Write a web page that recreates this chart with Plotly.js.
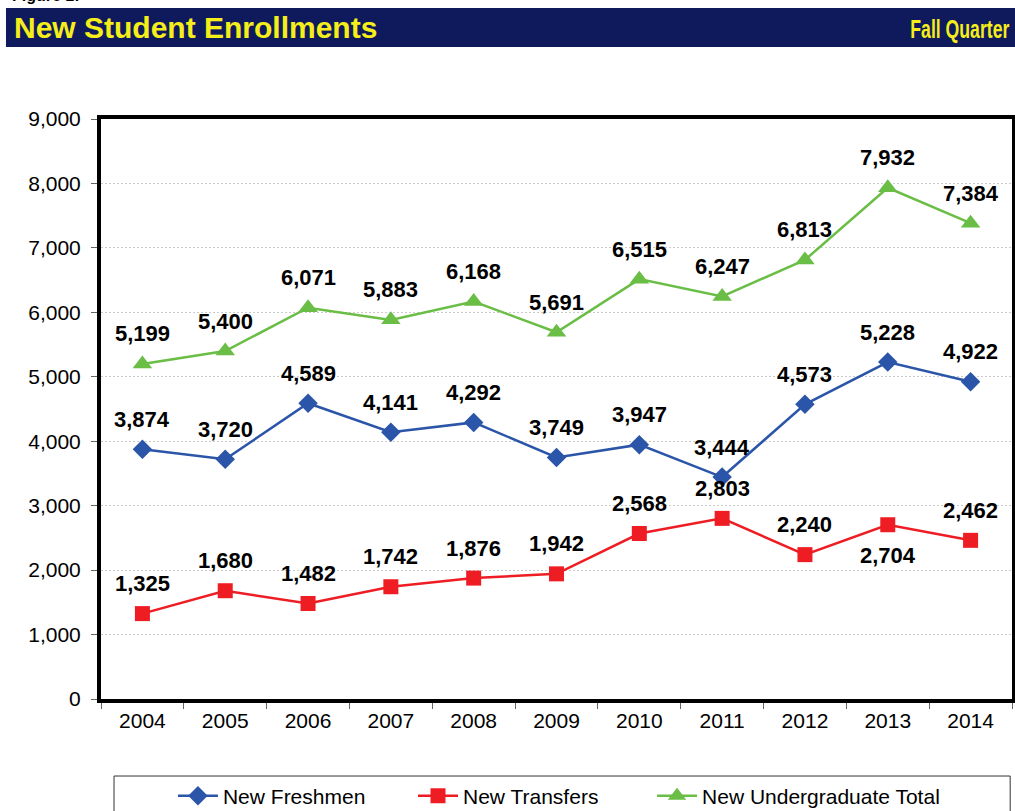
<!DOCTYPE html>
<html>
<head>
<meta charset="utf-8">
<script src="https://cdn.plot.ly/plotly-3.0.1.min.js"></script>
<style>html,body{margin:0;padding:0;background:#fff;}#chart{width:1015px;height:811px;}</style>
</head>
<body>
<div id="chart"></div>
<script>
const years = ['2004','2005','2006','2007','2008','2009','2010','2011','2012','2013','2014'];
const newFreshmen = [3874, 3720, 4589, 4141, 4292, 3749, 3947, 3444, 4573, 5228, 4922];
const newTransfers = [1325, 1680, 1482, 1742, 1876, 1942, 2568, 2803, 2240, 2704, 2462];
const newUndergradTotal = [5199, 5400, 6071, 5883, 6168, 5691, 6515, 6247, 6813, 7932, 7384];
const seriesNames = ['New Freshmen', 'New Transfers', 'New Undergraduate Total'];
const yTickVals = [0, 1000, 2000, 3000, 4000, 5000, 6000, 7000, 8000, 9000];
const yTickText = ['0', '1,000', '2,000', '3,000', '4,000', '5,000', '6,000', '7,000', '8,000', '9,000'];

const colors = ['#2A55A8', '#EE1D24', '#6ABD45'];
const symbols = ['diamond', 'square', 'triangle-up'];
const msizes = [15, 15, 17];
const allSeries = [newFreshmen, newTransfers, newUndergradTotal];
const legendIds = ['legend', 'legend2', 'legend3'];
const legendX = [0.1704, 0.4069, 0.6424];
// labels drawn below the point instead of above
const belowLabels = {1: ['2013']};

const traces = allSeries.map((vals, i) => ({
  x: years, y: vals, name: seriesNames[i], type: 'scatter', mode: 'lines+markers',
  legend: legendIds[i],
  line: {color: colors[i], width: 2.5},
  marker: {symbol: symbols[i], size: msizes[i], color: colors[i]}
}));

const fmt = v => v.toLocaleString('en-US');
const annotations = [];
allSeries.forEach((vals, i) => {
  vals.forEach((v, j) => {
    const below = belowLabels[i] && belowLabels[i].includes(years[j]);
    annotations.push({
      x: j, y: v, xref: 'x', yref: 'y', text: '<b>' + fmt(v) + '</b>', showarrow: false,
      yshift: below ? -31 : 30,
      font: {family: 'Liberation Sans, Arial, sans-serif', size: 22, color: '#000'}
    });
  });
});

// header texts
annotations.push({
  xref: 'paper', yref: 'paper', x: -0.0977, y: 1.1586, xanchor: 'left', yanchor: 'middle',
  text: '<b>New Student Enrollments</b>', showarrow: false,
  font: {family: 'Liberation Sans, Arial, sans-serif', size: 30, color: '#F5EE1A'}
});
annotations.push({
  xref: 'paper', yref: 'paper', x: 1.0, y: 1.155, xanchor: 'right', yanchor: 'middle', align: 'right',
  text: '<b>Fall Quarter</b>', showarrow: false,
  font: {family: 'Liberation Sans, Arial, sans-serif', size: 25, color: '#F5EE1A'}
});
annotations.push({
  xref: 'paper', yref: 'paper', x: -0.1, y: 1.2135, xanchor: 'left', yanchor: 'middle',
  text: '<b>Figure 1:</b>', showarrow: false,
  font: {family: 'Liberation Sans, Arial, sans-serif', size: 16, color: '#000'}
});

const legendBase = {
  orientation: 'h', xref: 'container', yref: 'container',
  xanchor: 'left', y: 0.0185, yanchor: 'middle',
  font: {family: 'Liberation Sans, Arial, sans-serif', size: 21, color: '#000'},
  bgcolor: 'rgba(0,0,0,0)', itemwidth: 40
};

const layout = {
  width: 1015, height: 811,
  margin: {l: 101, r: 3, t: 119, b: 112},
  paper_bgcolor: '#fff', plot_bgcolor: '#fff',
  font: {family: 'Liberation Sans, Arial, sans-serif', size: 21, color: '#000'},
  showlegend: true,
  legend: Object.assign({}, legendBase, {x: legendX[0]}),
  legend2: Object.assign({}, legendBase, {x: legendX[1]}),
  legend3: Object.assign({}, legendBase, {x: legendX[2]}),
  xaxis: {
    type: 'category', range: [-0.5, 10.5], tickson: 'boundaries',
    ticks: 'outside', ticklen: 6, tickcolor: '#666', tickwidth: 1,
    showline: true, linecolor: '#000', linewidth: 4, mirror: true,
    showgrid: false, zeroline: false, fixedrange: true
  },
  yaxis: {
    range: [0, 9000], tickvals: yTickVals, ticktext: yTickText,
    ticks: 'outside', ticklen: 6, tickcolor: '#666', tickwidth: 1,
    showline: true, linecolor: '#000', linewidth: 4, mirror: true,
    showgrid: true, gridcolor: '#cccccc', griddash: '2px,2px', gridwidth: 1,
    zeroline: false, ticklabelstandoff: 6
  },
  shapes: [
    {type: 'rect', xref: 'paper', yref: 'paper', x0: -0.1043, x1: 1.01, y0: 1.1241, y1: 1.1914,
     fillcolor: '#0F1A5C', line: {width: 0}, layer: 'above'},
    {type: 'rect', xref: 'paper', yref: 'paper', x0: 0.0143, x1: 0.998, y0: -0.1328, y1: -0.25,
     fillcolor: 'rgba(0,0,0,0)', line: {color: '#333', width: 1}, layer: 'above'}
  ],
  annotations: annotations
};

Plotly.newPlot('chart', traces, layout, {displayModeBar: false, staticPlot: true}).then(gd => {
  // condense the "Fall Quarter" label like the original narrow typeface
  gd.querySelectorAll('.annotation-text').forEach(t => {
    if (t.textContent === 'Fall Quarter') {
      t.setAttribute('textLength', '99');
      t.setAttribute('lengthAdjust', 'spacingAndGlyphs');
    }
  });
});
</script>
</body>
</html>
